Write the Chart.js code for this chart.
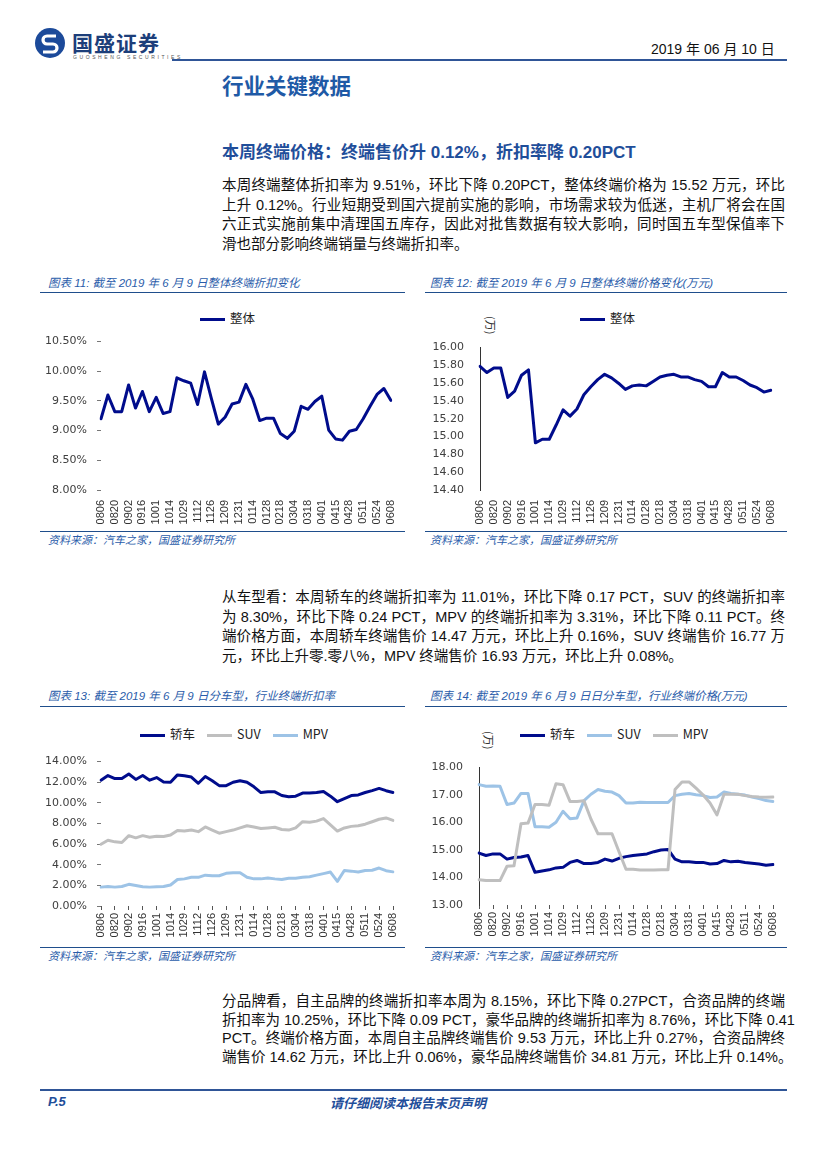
<!DOCTYPE html>
<html lang="zh">
<head>
<meta charset="UTF-8">
<title>行业关键数据</title>
<script src="https://cdn.jsdelivr.net/npm/chart.js"></script>
<style>
  html, body { margin: 0; padding: 0; background: #fff; }
  body { width: 827px; height: 1170px; position: relative; overflow: hidden;
         font-family: "Liberation Sans", "Noto Sans CJK SC", sans-serif; color: #111; }
  .abs { position: absolute; white-space: nowrap; }
  .hline { position: absolute; height: 0; border-top: 1.5px solid #1F4E8C; }
  .para div { position: absolute; left: 222px; width: 563px; font-size: 14.5px; line-height: 20px;
              text-align: justify; text-align-last: justify; white-space: nowrap; }
  .para div.last { text-align-last: left; }
  .ctitle { font-size: 11.5px; color: #2A5CAA; font-style: italic; }
  .src { font-size: 11px; color: #2A5CAA; font-style: italic; }
  .leg { position: absolute; font-size: 12.5px; color: #222; font-family: "Noto Sans CJK SC", sans-serif; }
  .leg i { display: inline-block; width: 25px; height: 3px; vertical-align: middle; margin-right: 5px; }
  .leg span { margin-right: 12px; }
  .unit { position: absolute; font-size: 11px; color: #333; transform: rotate(90deg);
          transform-origin: left top; font-family: "Noto Sans CJK SC"; white-space: nowrap; }
  canvas { position: absolute; }
</style>
</head>
<body>

<!-- header -->
<svg class="abs" style="left:34px;top:27px" width="32" height="32" viewBox="0 0 32 32">
  <circle cx="16" cy="16" r="15" fill="#1C4A9A"/>
  <path d="M22 9 H13 a4 4 0 0 0 0 8 h6 a4 4 0 0 1 0 8 H9" stroke="#fff" stroke-width="3.2" fill="none"/>
</svg>
<div class="abs" style="left:72px;top:27px;font-size:21px;font-weight:bold;color:#1C3E7A;font-family:'Noto Sans CJK SC';letter-spacing:1px">国盛证券</div>
<div class="abs" style="left:73px;top:54px;font-size:5px;color:#555;letter-spacing:2.6px">GUOSHENG SECURITIES</div>
<div class="abs" style="left:651px;top:38px;font-size:14px;color:#111">2019 年 06 月 10 日</div>
<div class="hline" style="left:172px;top:59px;width:615px;border-top-width:2px;border-color:#2F5597"></div>

<div class="abs" style="left:222px;top:69px;font-size:21.5px;font-weight:bold;color:#1F5AA6;font-family:'Noto Sans CJK SC'">行业关键数据</div>
<div class="abs" style="left:222px;top:138px;font-size:17px;font-weight:bold;color:#1F4E9A">本周终端价格：终端售价升 0.12%，折扣率降 0.20PCT</div>

<div class="para">
  <div style="top:175px">本周终端整体折扣率为 9.51%，环比下降 0.20PCT，整体终端价格为 15.52 万元，环比</div>
  <div style="top:194.5px">上升 0.12%。行业短期受到国六提前实施的影响，市场需求较为低迷，主机厂将会在国</div>
  <div style="top:214px">六正式实施前集中清理国五库存，因此对批售数据有较大影响，同时国五车型保值率下</div>
  <div class="last" style="top:233.5px">滑也部分影响终端销量与终端折扣率。</div>
</div>

<!-- chart 11 / 12 frame -->
<div class="abs ctitle" style="left:48px;top:274px">图表 11:  截至 2019 年 6 月 9 日整体终端折扣变化</div>
<div class="abs ctitle" style="left:430px;top:274px">图表 12:  截至 2019 年 6 月 9 日整体终端价格变化(万元)</div>
<div class="hline" style="left:40px;top:292px;width:365px"></div>
<div class="hline" style="left:425px;top:292px;width:362px"></div>
<div class="leg" style="left:200px;top:308px"><i style="background:#000C8C"></i>整体</div>
<div class="leg" style="left:580px;top:308px"><i style="background:#000C8C"></i>整体</div>
<div class="unit" style="left:499px;top:316px">(万)</div>
<canvas id="c11" width="370" height="200" style="left:40px;top:325px"></canvas>
<canvas id="c12" width="370" height="200" style="left:420px;top:325px"></canvas>
<div class="hline" style="left:40px;top:531px;width:365px"></div>
<div class="hline" style="left:425px;top:531px;width:362px"></div>
<div class="abs src" style="left:48px;top:531px">资料来源：汽车之家，国盛证券研究所</div>
<div class="abs src" style="left:430px;top:531px">资料来源：汽车之家，国盛证券研究所</div>

<div class="para">
  <div style="top:587px">从车型看：本周轿车的终端折扣率为 11.01%，环比下降 0.17 PCT，SUV 的终端折扣率</div>
  <div style="top:606.5px">为 8.30%，环比下降 0.24 PCT，MPV 的终端折扣率为 3.31%，环比下降 0.11 PCT。终</div>
  <div style="top:626px">端价格方面，本周轿车终端售价 14.47 万元，环比上升 0.16%，SUV 终端售价 16.77 万</div>
  <div class="last" style="top:645.5px">元，环比上升零.零八%，MPV 终端售价 16.93 万元，环比上升 0.08%。</div>
</div>

<!-- chart 13 / 14 frame -->
<div class="abs ctitle" style="left:48px;top:687px">图表 13:  截至 2019 年 6 月 9 日分车型，行业终端折扣率</div>
<div class="abs ctitle" style="left:430px;top:687px">图表 14:  截至 2019 年 6 月 9 日日分车型，行业终端价格(万元)</div>
<div class="hline" style="left:40px;top:706px;width:365px"></div>
<div class="hline" style="left:425px;top:706px;width:362px"></div>
<div class="leg" style="left:140px;top:724px"><span><i style="background:#000C8C"></i>轿车</span><span><i style="background:#BFBFBF"></i>SUV</span><span><i style="background:#9DC3E6"></i>MPV</span></div>
<div class="leg" style="left:520px;top:724px"><span><i style="background:#000C8C"></i>轿车</span><span><i style="background:#9DC3E6"></i>SUV</span><span><i style="background:#BFBFBF"></i>MPV</span></div>
<div class="unit" style="left:497px;top:731px">(万)</div>
<canvas id="c13" width="370" height="195" style="left:40px;top:745px"></canvas>
<canvas id="c14" width="370" height="195" style="left:420px;top:745px"></canvas>
<div class="hline" style="left:40px;top:947px;width:365px"></div>
<div class="hline" style="left:425px;top:947px;width:362px"></div>
<div class="abs src" style="left:48px;top:947px">资料来源：汽车之家，国盛证券研究所</div>
<div class="abs src" style="left:430px;top:947px">资料来源：汽车之家，国盛证券研究所</div>

<div class="para">
  <div style="top:991px">分品牌看，自主品牌的终端折扣率本周为 8.15%，环比下降 0.27PCT，合资品牌的终端</div>
  <div style="top:1009.5px">折扣率为 10.25%，环比下降 0.09 PCT，豪华品牌的终端折扣率为 8.76%，环比下降 0.41</div>
  <div style="top:1028px">PCT。终端价格方面，本周自主品牌终端售价 9.53 万元，环比上升 0.27%，合资品牌终</div>
  <div style="top:1046.5px">端售价 14.62 万元，环比上升 0.06%，豪华品牌终端售价 34.81 万元，环比上升 0.14%。</div>
</div>

<!-- footer -->
<div class="hline" style="left:40px;top:1089px;width:747px;border-top-width:2.5px;border-color:#2F5597"></div>
<div class="abs" style="left:48px;top:1094px;font-size:13px;font-weight:bold;font-style:italic;color:#1F4E9A">P.5</div>
<div class="abs" style="left:330px;top:1093px;font-size:13px;font-weight:bold;font-style:italic;color:#1F4E9A;font-family:'Noto Sans CJK SC'">请仔细阅读本报告末页声明</div>

<script>
// weekly dates, labels shown every other week
const dates = ['0806','0813','0820','0827','0902','0909','0916','0923','1001','1007','1014','1021','1029',
  '1105','1112','1119','1126','1203','1209','1220','1231','0107','0114','0121','0128','0208','0218','0225',
  '0304','0311','0318','0325','0401','0408','0415','0421','0428','0505','0511','0518','0524','0601','0608'];

// 图表11 整体终端折扣率 (%)
const overallDiscount = [9.20,9.60,9.32,9.32,9.77,9.38,9.66,9.32,9.56,9.29,9.32,9.89,9.84,9.80,9.44,9.99,9.54,
  9.11,9.23,9.45,9.48,9.78,9.53,9.17,9.21,9.21,8.95,8.87,8.99,9.41,9.36,9.49,9.58,9.01,8.86,8.84,8.99,9.02,
  9.20,9.41,9.61,9.71,9.51];

// 图表12 整体终端价格 (万元)
const overallPrice = [15.79,15.72,15.77,15.77,15.44,15.51,15.69,15.75,14.93,14.97,14.97,15.13,15.30,15.23,15.31,
  15.47,15.56,15.64,15.70,15.66,15.60,15.53,15.57,15.58,15.57,15.62,15.67,15.69,15.70,15.67,15.67,15.64,15.62,
  15.56,15.56,15.72,15.67,15.67,15.63,15.58,15.55,15.50,15.52];

// 图表13 分车型折扣率 (%)
const sedanDiscount = [12.20,12.65,12.35,12.35,12.80,12.27,12.65,12.20,12.45,12.03,12.00,12.71,12.62,12.50,11.90,
  12.56,12.15,11.67,11.67,12.00,12.15,12.00,11.55,11.00,11.07,11.07,10.71,10.59,10.65,10.95,10.95,11.00,11.10,
  10.65,10.11,10.41,10.71,10.77,11.00,11.19,11.40,11.18,11.01];
const suvDiscount = [5.98,6.37,6.22,6.16,6.82,6.61,6.82,6.67,6.76,6.73,6.88,7.33,7.27,7.36,7.21,7.66,7.36,7.06,
  7.21,7.36,7.57,7.78,7.66,7.51,7.57,7.63,7.42,7.36,7.57,8.17,8.11,8.23,8.47,7.87,7.27,7.57,7.72,7.78,7.93,
  8.17,8.41,8.54,8.30];
const mpvDiscount = [1.83,1.89,1.83,1.89,2.10,1.98,1.86,1.83,1.86,1.89,2.04,2.57,2.63,2.78,2.78,2.99,2.93,2.93,
  3.17,3.23,3.23,2.78,2.63,2.63,2.72,2.63,2.57,2.69,2.69,2.78,2.84,2.99,3.14,3.29,2.39,3.44,3.38,3.29,3.44,
  3.47,3.68,3.42,3.31];

// 图表14 分车型终端价格 (万元)
const sedanPrice = [14.89,14.80,14.86,14.86,14.67,14.73,14.75,14.80,14.19,14.24,14.28,14.35,14.37,14.55,14.62,
  14.51,14.51,14.55,14.67,14.60,14.70,14.76,14.80,14.83,14.86,14.94,15.00,15.02,14.67,14.57,14.57,14.55,14.55,
  14.49,14.51,14.62,14.57,14.59,14.55,14.52,14.49,14.45,14.47];
const suvPrice = [17.38,17.32,17.33,17.32,16.66,16.71,17.06,17.06,15.85,15.85,15.83,16.01,16.41,16.14,16.17,
  16.80,17.03,17.20,17.14,17.11,16.98,16.71,16.71,16.74,16.73,16.73,16.73,16.73,16.98,17.03,17.06,17.01,16.98,
  16.91,16.93,17.11,17.06,17.03,17.00,16.93,16.87,16.80,16.77];
const mpvPrice = [13.92,13.89,13.89,13.89,14.41,14.43,15.96,15.98,16.66,16.66,16.63,17.41,17.38,16.77,16.77,
  16.79,16.12,15.59,15.59,15.59,14.94,14.30,14.30,14.27,14.27,14.27,14.28,14.28,17.20,17.48,17.48,17.25,17.01,
  16.71,16.28,17.03,17.03,17.03,16.98,16.95,16.93,16.92,16.93];

const NAVY = '#000C8C', GREY = '#BFBFBF', LBLUE = '#9DC3E6';

function line(data, color, order) {
  return { data, borderColor: color, borderWidth: 3, pointRadius: 0, tension: 0,
           borderJoinStyle: 'round', borderCapStyle: 'round', order };
}

// p: plot area inside the canvas (left, top, right, bottom)
function makeChart(id, datasets, o) {
  const cv = document.getElementById(id);
  const W = cv.width, H = cv.height;
  new Chart(cv, {
    type: 'line',
    data: { labels: dates, datasets },
    options: {
      responsive: false, animation: false, devicePixelRatio: 1,
      layout: { padding: { top: o.p.top, right: W - o.p.right, left: 0, bottom: 0 } },
      plugins: { legend: { display: false }, tooltip: { enabled: false } },
      scales: {
        x: {
          offset: false,
          grid: { display: o.xTicks, drawOnChartArea: false, tickLength: 4, color: '#555' },
          border: { display: false },
          afterBuildTicks: ax => { ax.ticks = ax.ticks.filter(t => t.value % 2 === 0); },
          afterFit: ax => { ax.height = H - o.p.bottom; },
          ticks: { autoSkip: false, minRotation: 90, maxRotation: 90, padding: o.xTicks ? 3 : 6,
                   color: '#333', font: { family: 'Liberation Sans', size: 11 } }
        },
        y: {
          min: o.min, max: o.max,
          grid: { drawOnChartArea: false, drawTicks: o.yTicks, tickLength: 4, color: '#777' },
          border: { display: o.yBorder, color: '#333', width: 1 },
          afterFit: ax => { ax.width = o.p.left; },
          ticks: { stepSize: o.step, padding: o.yTicks ? 10 : 16, color: '#404040',
                   font: { family: 'DejaVu Sans', size: 11 },
                   callback: v => v.toFixed(2) + (o.pct ? '%' : '') }
        }
      }
    }
  });
}

makeChart('c11', [line(overallDiscount, NAVY, 1)],
  { p: { left: 61, top: 8, right: 352, bottom: 165 }, min: 8, max: 10.5, step: 0.5, pct: true,
    yTicks: true, yBorder: false, xTicks: false });

makeChart('c12', [line(overallPrice, NAVY, 1)],
  { p: { left: 60, top: 8, right: 354, bottom: 165 }, min: 14.4, max: 16, step: 0.2, pct: false,
    yTicks: false, yBorder: true, xTicks: false });

makeChart('c13', [line(sedanDiscount, NAVY, 3), line(suvDiscount, GREY, 2), line(mpvDiscount, LBLUE, 1)],
  { p: { left: 61, top: 5, right: 353, bottom: 161 }, min: 0, max: 14, step: 2, pct: true,
    yTicks: true, yBorder: false, xTicks: true });

makeChart('c14', [line(sedanPrice, NAVY, 3), line(suvPrice, LBLUE, 2), line(mpvPrice, GREY, 1)],
  { p: { left: 59, top: 5, right: 353, bottom: 160 }, min: 13, max: 18, step: 1, pct: false,
    yTicks: false, yBorder: true, xTicks: true });
</script>
</body>
</html>
